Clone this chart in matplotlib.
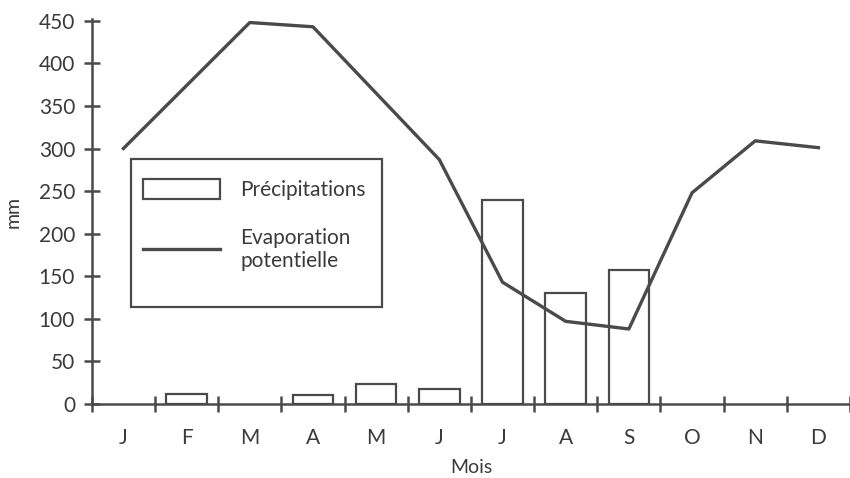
import matplotlib.pyplot as plt
from matplotlib.patches import Patch, Rectangle
from matplotlib.lines import Line2D
import numpy as np

plt.rcParams['font.family'] = ['Lato', 'DejaVu Sans']

mois = ['J', 'F', 'M', 'A', 'M', 'J', 'J', 'A', 'S', 'O', 'N', 'D']
precipitations = [0, 12, 0, 11, 23, 18, 240, 130, 157, 0, 0, 0]
evaporation = [300, 374, 448, 443, 365, 287, 143, 97, 88, 248, 309, 301]

gris = '#4a4a4a'
texte = '#3a3a3a'
x = np.arange(len(mois))

fig = plt.figure(figsize=(8.5, 4.78), dpi=100)
ax = fig.add_axes([0.108, 0.155, 0.892, 0.805])

barres = [i for i, v in enumerate(precipitations) if v > 0]
ax.bar([x[i] for i in barres], [precipitations[i] for i in barres], width=0.64,
       facecolor='white', edgecolor=gris, linewidth=1.6, zorder=2)
ax.plot(x, evaporation, color=gris, linewidth=2.4, zorder=3)

ax.set_xlim(-0.5, 11.3)
ax.set_ylim(0, 452)

for cote in ['top', 'right']:
    ax.spines[cote].set_visible(False)
for cote in ['left', 'bottom']:
    ax.spines[cote].set_color(gris)
    ax.spines[cote].set_linewidth(1.8)

ax.set_yticks(range(0, 451, 50))
ax.tick_params(axis='y', direction='inout', length=12, width=1.8, color=gris,
               labelsize=15, labelcolor=texte, pad=6)
ax.set_xticks(np.arange(-0.5, 12, 1))
ax.set_xticklabels([])
ax.tick_params(axis='x', which='major', direction='inout', length=12, width=1.8, color=gris)
ax.set_xticks(x, minor=True)
ax.set_xticklabels(mois, minor=True)
ax.tick_params(axis='x', which='minor', length=0, labelsize=15, labelcolor=texte, pad=17)

ax.set_xlabel('Mois', fontsize=14, color=texte, labelpad=8)
ax.set_ylabel('mm', fontsize=14, color=texte, labelpad=12)

# cadre de la légende
ax.add_patch(Rectangle((0.052, 0.253), 0.331, 0.383, transform=ax.transAxes,
                       facecolor='white', edgecolor=gris, linewidth=1.6, zorder=4))
poignees = [Patch(facecolor='white', edgecolor=gris, linewidth=1.6),
            Line2D([], [], color=gris, linewidth=2.4)]
leg = ax.legend(poignees, ['Précipitations', 'Evaporation\npotentielle'],
                loc='upper left', bbox_to_anchor=(0.068, 0.585), fontsize=15,
                handlelength=3.7, handleheight=1.1, handletextpad=0.95,
                labelspacing=1.35, borderpad=0, borderaxespad=0,
                frameon=False, labelcolor=texte)
leg.set_zorder(5)

fig.savefig('out.png', dpi=100)
